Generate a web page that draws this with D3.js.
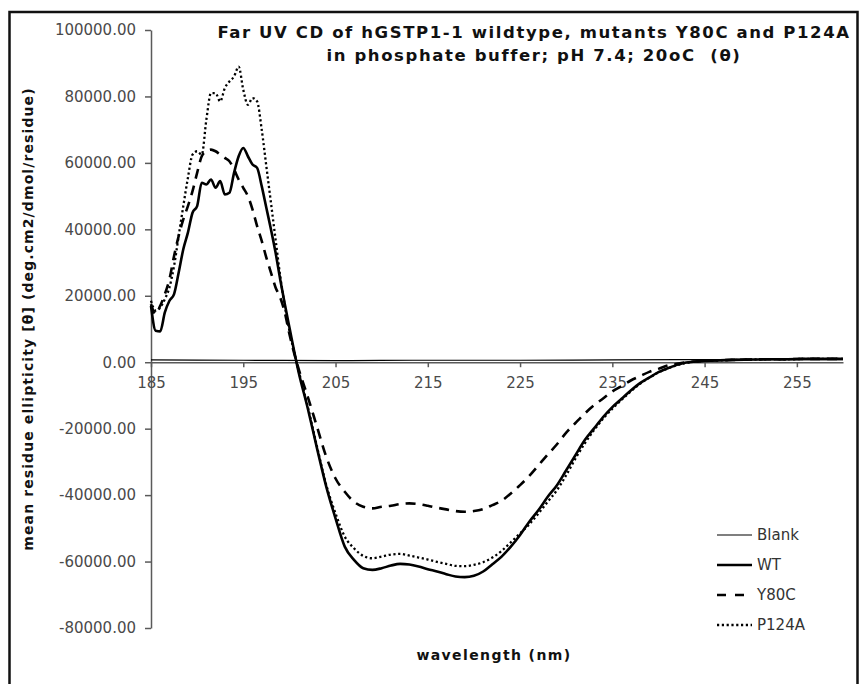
<!DOCTYPE html>
<html>
<head>
<meta charset="utf-8">
<script src="https://cdn.jsdelivr.net/npm/d3@7"></script>
<style>
  body { margin: 0; background: #fff; }
  svg { display: block; }
</style>
</head>
<body>
<div id="chart"></div>
<script>
// data (mean residue ellipticity)
var wavelength = [185, 185.5, 186, 186.5, 187, 187.5, 188, 188.5, 189, 189.5,
  190, 190.5, 191, 191.5, 192, 192.5, 193, 193.5, 194, 194.5,
  195, 195.5, 196, 196.5, 197, 197.5, 198, 198.5, 199, 199.5, 200,
  201, 202, 203, 204, 205, 206, 207, 208, 209, 210,
  211, 212, 213, 214, 215, 216, 217, 218, 219, 220,
  221, 222, 223, 224, 225, 226, 227, 228, 229, 230,
  231, 232, 233, 234, 235, 236, 237, 238, 239, 240,
  241, 242, 243, 244, 245, 246,
  248, 250, 252, 254, 256, 258, 260];

var wt = [17000, 9500, 9300, 15000, 18500, 20500, 27000, 34000, 39000, 45000,
  47000, 54000, 53500, 55000, 52500, 54500, 50500, 51000, 57000, 62000,
  64500, 62000, 59500, 58500, 53000, 46500, 40000, 33000, 25000, 17500, 10500,
  -3000, -14000, -26000, -37500, -47000, -55500, -59500, -62000, -62500, -62000,
  -61200, -60700, -60900, -61500, -62300, -63000, -63800, -64500, -64700, -64300,
  -63000, -60800, -58500, -55500, -52000, -48000, -44500, -40500, -37000, -32500,
  -28000, -23500, -20000, -16500, -13500, -11000, -8500, -6300, -4600, -3000,
  -1800, -800, -100, 200, 400, 500,
  700, 800, 900, 900, 1000, 1000, 1000];

var y80c = [17500, 14500, 17000, 20500, 25000, 32000, 38000, 43000, 47000, 51500,
  57000, 62000, 63500, 64000, 63500, 62500, 61500, 60500, 58000, 55000,
  52500, 50000, 46000, 41000, 36500, 31500, 27000, 22500, 19500, 15000, 8500,
  -2000, -10500, -19500, -28500, -35000, -39000, -42000, -43500, -44000, -43500,
  -43200, -42700, -42500, -42700, -43200, -43800, -44300, -44800, -45000, -44800,
  -44200, -43000, -41700, -39500, -37000, -34200, -31000, -27800, -24700, -21200,
  -18300, -15500, -13000, -10900, -8800, -7200, -5500, -4200, -2900, -2000,
  -1000, -500, 0, 200, 400, 500,
  700, 800, 900, 900, 1000, 1000, 1000];

var p124a = [18500, 15500, 16500, 19000, 22500, 29000, 38000, 47000, 55500, 62500,
  63500, 62500, 73000, 81000, 81000, 78500, 82500, 84500, 86000, 89000,
  82000, 77500, 79500, 78500, 70000, 59000, 48000, 37000, 26000, 17000, 9500,
  -2500, -13500, -25500, -37000, -45500, -52500, -56000, -58300, -59000, -58500,
  -57900, -57700, -58200, -58800, -59400, -60100, -60700, -61300, -61400, -61000,
  -60200, -58800, -56800, -54200, -51500, -48800, -45500, -42000, -38500, -34000,
  -29000, -24500, -20500, -17000, -14000, -11300, -8800, -6500, -4700, -3100,
  -1900, -900, -200, 200, 400, 500,
  700, 800, 900, 900, 1000, 1000, 1000];

var blankWl = [185, 195, 205, 215, 225, 235, 245, 255, 260];
var blankVal = [700, 600, 500, 600, 600, 700, 800, 800, 800];

var xTicks = [185, 195, 205, 215, 225, 235, 245, 255];
var yTicks = [-80000, -60000, -40000, -20000, 0, 20000, 40000, 60000, 80000, 100000];
var seriesNames = ['Blank', 'WT', 'Y80C', 'P124A'];

// layout
var width = 859, height = 684,
    font = 'DejaVu Sans, Verdana, sans-serif';

var svg = d3.select('#chart').append('svg')
  .attr('width', width)
  .attr('height', height);

svg.append('rect')
  .attr('width', width).attr('height', height)
  .attr('fill', '#fff');

// outer frame (cut by the picture edge at bottom)
svg.append('path')
  .attr('d', 'M9.5,684 V12 H857.5 V684')
  .attr('fill', 'none')
  .attr('stroke', '#111')
  .attr('stroke-width', 2.5);

var x = d3.scaleLinear().domain([185, 260]).range([151, 843]);
var y = d3.scaleLinear().domain([-80000, 100000]).range([628, 30]);

// y axis
var yAxis = svg.append('g')
  .attr('transform', 'translate(151,0)')
  .call(d3.axisLeft(y)
    .tickValues(yTicks)
    .tickSize(6)
    .tickSizeOuter(0)
    .tickPadding(9)
    .tickFormat(function(d) { return d.toFixed(2); }));

// x axis sits on zero
var xAxis = svg.append('g')
  .attr('transform', 'translate(0,' + y(0) + ')')
  .call(d3.axisBottom(x)
    .tickValues(xTicks)
    .tickSize(5)
    .tickSizeOuter(0)
    .tickPadding(10));

[yAxis, xAxis].forEach(function(a) {
  a.selectAll('path, line').attr('stroke', '#5a5a5a').attr('stroke-width', 1.5);
  a.selectAll('text')
    .attr('fill', '#4a4a4a')
    .attr('font-family', font)
    .attr('font-size', 15);
});

// series
var line = d3.line()
  .x(function(d) { return x(d[0]); })
  .y(function(d) { return y(d[1]); })
  .curve(d3.curveMonotoneX);

function pairs(xs, ys) {
  return xs.map(function(v, i) { return [v, ys[i]]; });
}

var styles = {
  Blank: { w: 1.2, dash: null },
  WT: { w: 2.6, dash: null },
  Y80C: { w: 2.6, dash: '10,7' },
  P124A: { w: 2.3, dash: '2.2,2.6' }
};

var series = [
  { name: 'Blank', pts: pairs(blankWl, blankVal) },
  { name: 'Y80C', pts: pairs(wavelength, y80c) },
  { name: 'P124A', pts: pairs(wavelength, p124a) },
  { name: 'WT', pts: pairs(wavelength, wt) }
];

series.forEach(function(s) {
  svg.append('path')
    .datum(s.pts)
    .attr('d', line)
    .attr('fill', 'none')
    .attr('stroke', '#000')
    .attr('stroke-width', styles[s.name].w)
    .attr('stroke-dasharray', styles[s.name].dash)
    .attr('stroke-linejoin', 'round');
});

// legend
var legend = svg.append('g');
seriesNames.forEach(function(name, i) {
  var ly = 535 + i * 30;
  legend.append('line')
    .attr('x1', 717).attr('x2', 752)
    .attr('y1', ly).attr('y2', ly)
    .attr('stroke', '#000')
    .attr('stroke-width', styles[name].w)
    .attr('stroke-dasharray', name == 'Y80C' ? '9,9' : styles[name].dash);
  legend.append('text')
    .text(name)
    .attr('x', 757).attr('y', ly)
    .attr('dy', '0.35em')
    .attr('fill', '#333')
    .attr('font-family', font)
    .attr('font-size', 15);
});

// titles (bold face of the original is wider, hence the letter spacing)
var title = svg.append('text')
  .attr('text-anchor', 'middle')
  .attr('font-family', font)
  .attr('font-weight', 'bold')
  .attr('font-size', 16.5)
  .attr('letter-spacing', 1.6)
  .attr('fill', '#111');
title.append('tspan').attr('x', 534).attr('y', 38)
  .text('Far UV CD of hGSTP1-1 wildtype, mutants Y80C and P124A');
title.append('tspan').attr('x', 534).attr('y', 61)
  .attr('xml:space', 'preserve')
  .style('white-space', 'pre')
  .text('in phosphate buffer; pH 7.4; 20oC  (θ)');

svg.append('text')
  .text('mean residue ellipticity [θ] (deg.cm2/dmol/residue)')
  .attr('transform', 'translate(33,319) rotate(-90)')
  .attr('text-anchor', 'middle')
  .attr('font-family', font)
  .attr('font-weight', 'bold')
  .attr('font-size', 14)
  .attr('letter-spacing', 1.1)
  .attr('fill', '#111');

svg.append('text')
  .text('wavelength (nm)')
  .attr('x', 494).attr('y', 660)
  .attr('text-anchor', 'middle')
  .attr('font-family', font)
  .attr('font-weight', 'bold')
  .attr('font-size', 14)
  .attr('letter-spacing', 1.4)
  .attr('fill', '#111');
</script>
</body>
</html>
